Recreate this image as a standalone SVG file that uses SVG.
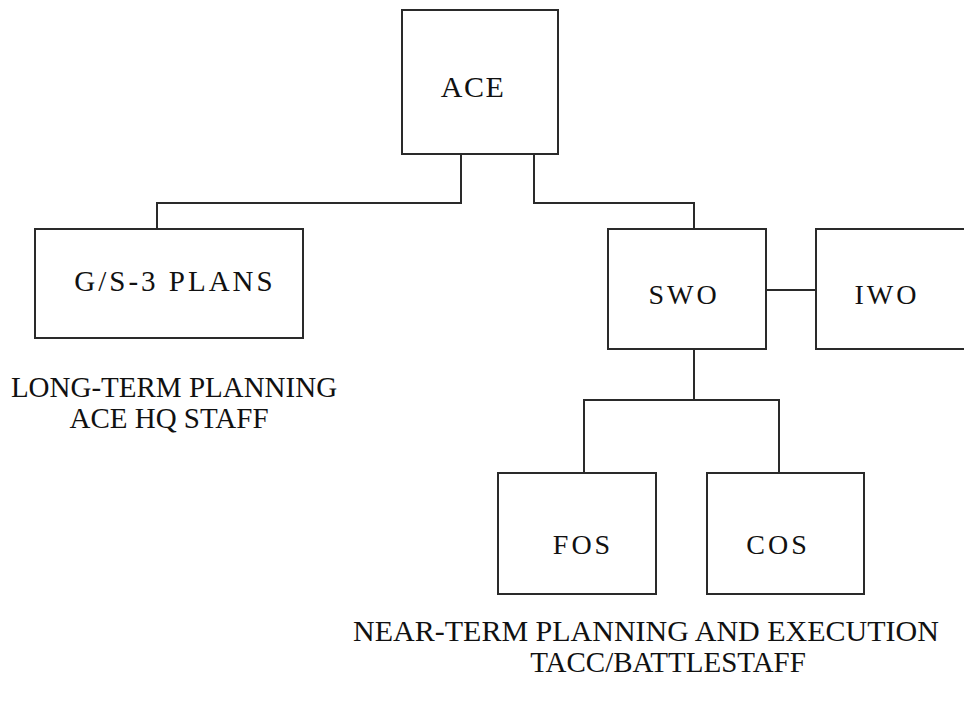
<svg xmlns="http://www.w3.org/2000/svg" width="964" height="703" viewBox="0 0 964 703">
<style>
.box{fill:#fff;stroke:#2a2a2a;stroke-width:2}
.con{fill:none;stroke:#2a2a2a;stroke-width:2}
.lbl{font-family:"Liberation Serif","Times New Roman",serif;font-size:28px;fill:#111;text-anchor:middle;letter-spacing:3px}
.cap{font-family:"Liberation Serif","Times New Roman",serif;font-size:29px;fill:#111;text-anchor:middle}
</style>
<rect width="964" height="703" fill="#fff"/>
<g id="connectors">
<path class="con" d="M461,154 V203 H157 V229"/>
<path class="con" d="M534,154 V203 H694 V229"/>
<path class="con" d="M766,290 H816"/>
<path class="con" d="M694,349 V400"/>
<path class="con" d="M584,473 V400 H779 V473"/>
</g>
<g id="ace">
<rect class="box" x="402" y="10" width="156" height="144"/>
<text class="lbl" x="473" y="97" style="font-size:30px;letter-spacing:1.5px">ACE</text>
</g>
<g id="gs3">
<rect class="box" x="35" y="229" width="268" height="109"/>
<text class="lbl" x="175" y="291" style="font-size:29px;letter-spacing:3px">G/S-3 PLANS</text>
</g>
<g id="swo">
<rect class="box" x="608" y="229" width="158" height="120"/>
<text class="lbl" x="684" y="304">SWO</text>
</g>
<g id="iwo">
<rect class="box" x="816" y="229" width="160" height="120"/>
<text class="lbl" x="887" y="304">IWO</text>
</g>
<g id="fos">
<rect class="box" x="498" y="473" width="158" height="121"/>
<text class="lbl" x="583" y="554">FOS</text>
</g>
<g id="cos">
<rect class="box" x="707" y="473" width="157" height="121"/>
<text class="lbl" x="778" y="554">COS</text>
</g>
<g id="captions">
<text class="cap" x="174" y="397">LONG-TERM PLANNING</text>
<text class="cap" x="169" y="428">ACE HQ STAFF</text>
<text class="cap" x="646" y="641" style="font-size:30px">NEAR-TERM PLANNING AND EXECUTION</text>
<text class="cap" x="668" y="672">TACC/BATTLESTAFF</text>
</g>
</svg>
